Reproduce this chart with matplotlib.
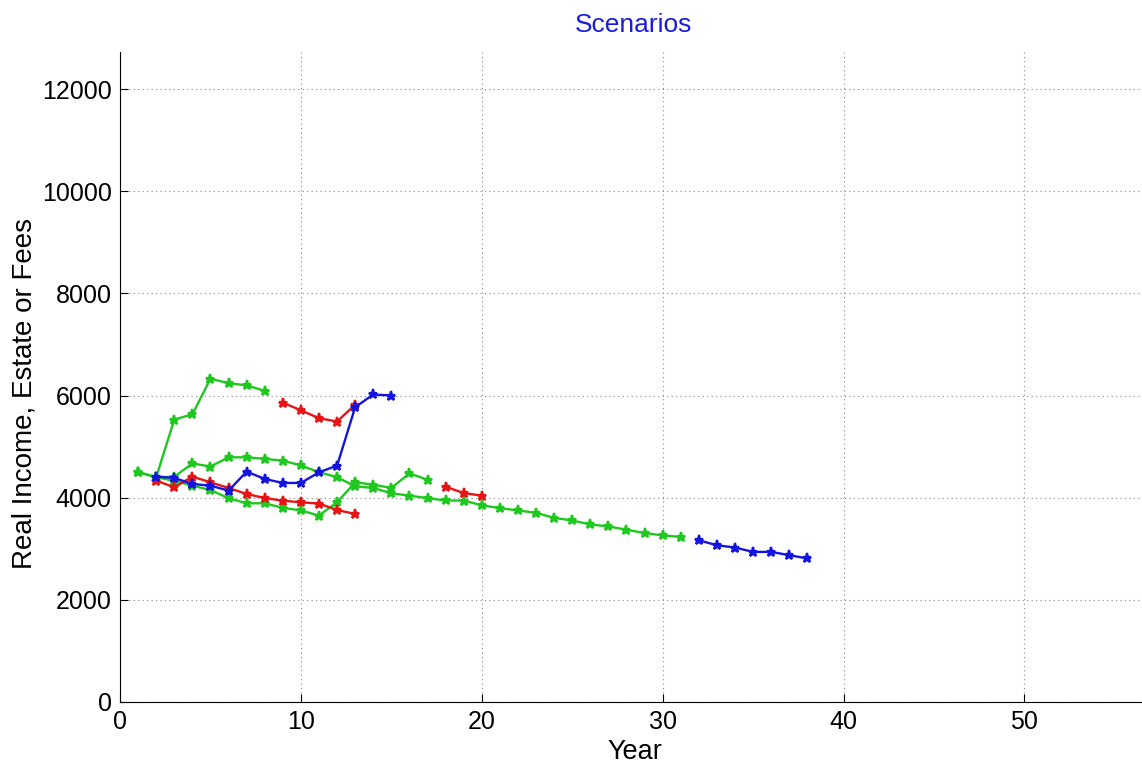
import matplotlib
matplotlib.use("Agg")
import matplotlib.pyplot as plt

plt.rcParams['font.family'] = ['Liberation Sans', 'DejaVu Sans']

# Data (Year, value)
green_main_x = list(range(1, 32))
green_main_y = [4500, 4400, 4410, 4670, 4610, 4790, 4790, 4760, 4725, 4630,
                4500, 4400, 4222, 4190, 4085, 4040, 3990, 3945, 3942, 3850,
                3795, 3750, 3702, 3605, 3553, 3476, 3437, 3372, 3307, 3262, 3230]
green_low_x = list(range(1, 18))
green_low_y = [4500, 4400, 4330, 4235, 4150, 3990, 3890, 3890, 3800, 3750,
               3650, 3910, 4300, 4255, 4190, 4475, 4350]
green_spike_x = list(range(2, 9))
green_spike_y = [4400, 5530, 5630, 6330, 6240, 6200, 6090]

red_low_x = list(range(2, 14))
red_low_y = [4333, 4203, 4412, 4300, 4190, 4072, 3993, 3941, 3908, 3885, 3758, 3680]
red_up_x = list(range(9, 14))
red_up_y = [5860, 5710, 5556, 5490, 5820]
red_late_x = [18, 19, 20]
red_late_y = [4214, 4090, 4040]

blue_main_x = list(range(2, 16))
blue_main_y = [4412, 4386, 4268, 4235, 4137, 4510, 4366, 4288, 4288, 4497,
               4627, 5771, 6020, 6000]
blue_tail_x = list(range(32, 39))
blue_tail_y = [3165, 3068, 3023, 2938, 2938, 2874, 2809]

xticks = [0, 10, 20, 30, 40, 50]
yticks = [0, 2000, 4000, 6000, 8000, 10000, 12000]

GREEN = '#1ec81e'
RED = '#e61414'
BLUE = '#1414e0'

fig = plt.figure(figsize=(11.42, 7.65), dpi=100)
ax = fig.add_axes([0.1051, 0.0824, 0.8949, 0.8496])

series = [
    (green_main_x, green_main_y, GREEN),
    (green_low_x, green_low_y, GREEN),
    (green_spike_x, green_spike_y, GREEN),
    (red_low_x, red_low_y, RED),
    (red_up_x, red_up_y, RED),
    (red_late_x, red_late_y, RED),
    (blue_main_x, blue_main_y, BLUE),
    (blue_tail_x, blue_tail_y, BLUE),
]
for xs, ys, c in series:
    ax.plot(xs, ys, '-', color=c, lw=1.7, marker='*', ms=6.5, mew=1.6, zorder=3)

ax.set_xlim(0, 56.5)
ax.set_ylim(0, 12725)
ax.set_xticks(xticks)
ax.set_yticks(yticks)
ax.tick_params(direction='in', length=6, width=0.8, labelsize=18, pad=6)
ax.grid(True, linestyle=(0, (1, 3)), color='#888888', linewidth=0.8)
ax.spines['top'].set_visible(False)
ax.spines['right'].set_visible(False)
ax.set_ylabel('Real Income, Estate or Fees', fontsize=20)
ax.yaxis.set_label_coords(-0.081, 0.4746)

fig.text(635 / 1142, 1 - 759 / 765, 'Year', fontsize=19.5, ha='center', va='baseline')
fig.text(634 / 1142, 1 - 32 / 765, 'Scenarios', fontsize=19, color='#1a1ae0',
         ha='center', va='baseline')

fig.savefig('out.png', dpi=100)
